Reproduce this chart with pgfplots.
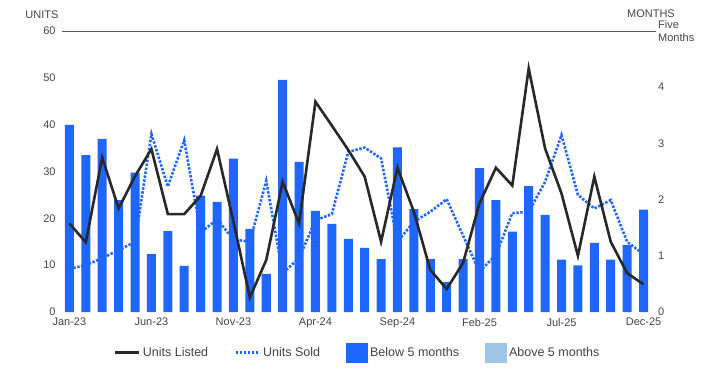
\documentclass[border=0pt]{standalone}
\usepackage{pgfplots}
\pgfplotsset{compat=1.18}
\usepackage{pgfplotstable}
\usepackage{fontspec}
\setmainfont{Liberation Sans}
\definecolor{barblue}{RGB}{31,102,255}
\definecolor{lightbar}{RGB}{159,197,232}
\definecolor{linedark}{RGB}{40,40,40}
\definecolor{txt}{RGB}{68,68,68}
\definecolor{topline}{RGB}{85,85,85}

\pgfplotsset{
  lineleg/.style={legend image code/.code={\draw[##1] (0bp,0bp) -- (24bp,0bp);}},
  boxleg/.style={legend image code/.code={\fill[##1] (0bp,-10bp) rectangle (22bp,10bp);}}
}

\pgfplotstableread{
i listed sold bars
0 18.9 9.2 3.33
1 14.9 10.0 2.79
2 33.0 11.5 3.08
3 22.1 13.2 1.99
4 29.0 15.0 2.48
5 34.8 38.0 1.03
6 20.9 26.8 1.44
7 20.9 36.7 0.82
8 24.8 16.9 2.07
9 34.8 19.8 1.96
10 19.3 15.5 2.73
11 3.1 15.0 1.48
12 11.1 28.0 0.68
13 27.8 8.3 4.13
14 18.9 11.5 2.67
15 44.9 19.6 1.80
16 39.8 20.9 1.57
17 34.6 34.2 1.30
18 28.9 35.1 1.14
19 15.0 32.8 0.94
20 30.8 15.0 2.93
21 21.4 19.3 1.83
22 9.0 21.4 0.94
23 4.9 24.1 0.53
24 10.5 16.3 0.94
25 23.2 8.6 2.56
26 30.8 12.2 1.99
27 27.0 21.1 1.43
28 52.0 21.4 2.24
29 34.9 27.8 1.73
30 25.3 37.8 0.93
31 12.0 25.0 0.83
32 28.9 22.1 1.23
33 15.0 23.9 0.93
34 8.3 15.0 1.19
35 5.9 12.3 1.82
}\data

\begin{document}
\begin{tikzpicture}
\pgfplotsset{
  common/.style={
    scale only axis, width=594.3bp, height=281bp,
    xmin=-0.47, xmax=35.76,
    axis line style={draw=none}, tick style={draw=none}, major tick length=0pt,
    /pgf/number format/assume math mode=true,
    tick label style={font=\fontsize{11bp}{13bp}\selectfont, text=txt},
    clip=false
  }
}
\begin{axis}[common, ymin=0, ymax=5,
  ytick={0,1,2,3,4,5}, yticklabels={0,1,2,3,4,{Five\\Months}},
  yticklabel pos=right,
  yticklabel style={align=left, anchor=west, inner sep=0pt, xshift=2bp},
  xtick=\empty]
\addplot[ybar, bar width=0.55, fill=barblue, draw=none] table[x=i, y=bars]{\data};
\end{axis}
\begin{axis}[common, ymin=0, ymax=60,
  ytick={0,10,...,60},
  yticklabel style={anchor=east, inner sep=0pt, xshift=-6bp},
  xtick={0,5,...,35},
  xticklabels={Jan-23,Jun-23,Nov-23,Apr-24,Sep-24,Feb-25,Jul-25,Dec-25},
  xticklabel style={anchor=north, inner sep=0pt, yshift=-6bp},
  extra y ticks={60}, extra y tick labels={},
  extra y tick style={grid=major, major grid style={topline, line width=1pt}},
  legend columns=4,
  legend cell align=left,
  legend style={draw=none, at={(0.498,-0.145)}, anchor=center,
    font=\fontsize{12.5bp}{14bp}\selectfont, text=txt,
    /tikz/every even column/.append style={column sep=24bp}}
]
\addplot[barblue, line width=2.6bp, dash pattern=on 2.4bp off 1.6bp, forget plot] table[x=i, y=sold]{\data};
\addplot[linedark, line width=2.6bp, forget plot] table[x=i, y=listed]{\data};
\addlegendimage{linedark, line width=3bp, lineleg}
\addlegendentry{Units Listed}
\addlegendimage{barblue, line width=3bp, dash pattern=on 2.4bp off 1.6bp, lineleg}
\addlegendentry{Units Sold}
\addlegendimage{fill=barblue, draw=none, boxleg}
\addlegendentry{Below 5 months}
\addlegendimage{fill=lightbar, draw=none, boxleg}
\addlegendentry{Above 5 months}
\node[font=\fontsize{11bp}{13bp}\selectfont, text=txt] at (rel axis cs:0,1) [xshift=-19.7bp, yshift=16bp] {UNITS};
\node[font=\fontsize{11bp}{13bp}\selectfont, text=txt, inner ysep=1bp] at (rel axis cs:1,1) [xshift=-5bp, yshift=17.5bp] {MONTHS};
\end{axis}
\pgfresetboundingbox
\path (-61.7bp,-67bp) rectangle (658.3bp,312bp);
\end{tikzpicture}
\end{document}
